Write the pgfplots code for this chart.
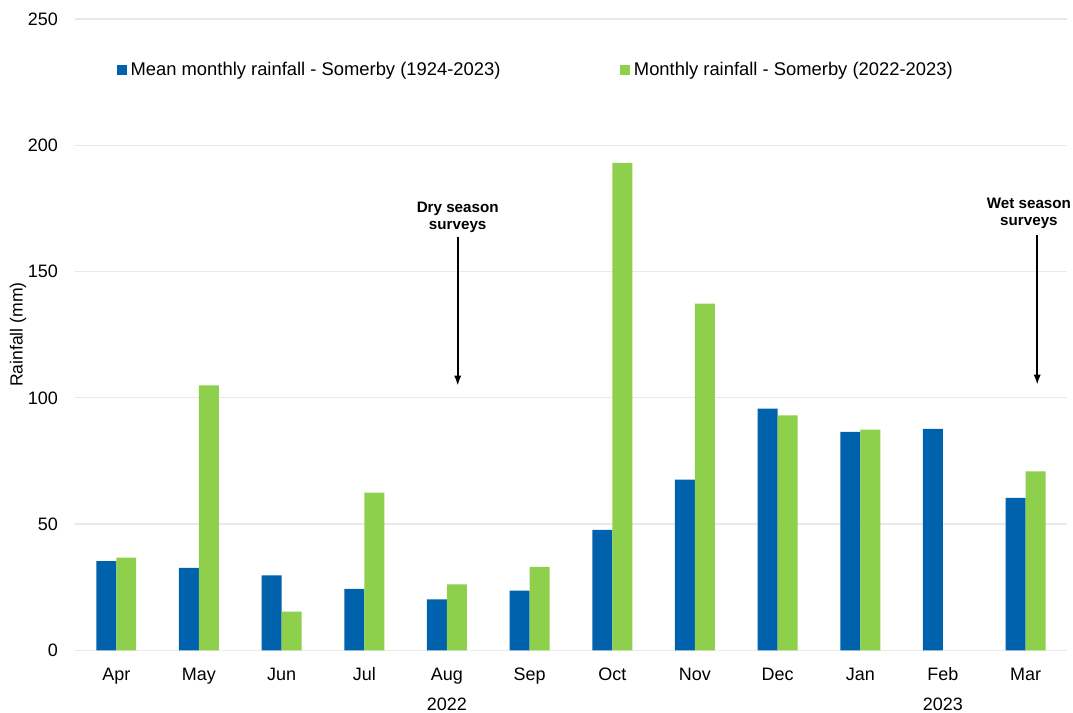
\documentclass[border=0pt]{standalone}
\usepackage{fontspec}
\setmainfont{Liberation Sans}
\usepackage{pgfplots}
\pgfplotsset{compat=1.18}
\usetikzlibrary{arrows.meta}
\definecolor{cblue}{HTML}{0062AC}
\definecolor{cgreen}{HTML}{8ECF4C}
\begin{document}
\begin{tikzpicture}
\begin{axis}[
  at={(0,0)}, anchor=south west,
  scale only axis, width=496.5pt, height=316pt,
  ybar, bar width=10pt,
  xmin=-0.5, xmax=11.5, ymin=0, ymax=250,
  ytick={0,50,...,250},
  xtick={0,...,11},
  xticklabels={Apr,May,Jun,Jul,Aug,Sep,Oct,Nov,Dec,Jan,Feb,Mar},
  major tick length=0pt,
  axis line style={draw=none},
  ymajorgrids, grid style={gray!17, line width=0.6pt},
  tick label style={font=\fontsize{9}{10}\selectfont},
  yticklabel style={xshift=-5pt},
  xticklabel style={yshift=-4.4pt, text height=7pt, text depth=2pt},
  /pgf/number format/assume math mode=true,
  ylabel={Rainfall (mm)},
  ylabel style={font=\fontsize{8.8}{10}\selectfont, at={(axis description cs:-0.0574,0.5)}, anchor=center},
  legend style={at={(axis description cs:0.036,0.919)}, anchor=west, draw=none, fill=none,
    font=\fontsize{9.2}{10}\selectfont, legend columns=2,
    /tikz/every even column/.append style={column sep=58pt}},
  clip=false,
]
\addplot[fill=cblue, draw=none, bar shift=-5pt,
  legend image code/.code={\fill[cblue] (0pt,-2.4pt) rectangle (4.8pt,2.4pt);}]
  coordinates {(0,35.3) (1,32.7) (2,29.7) (3,24.4) (4,20.2) (5,23.7) (6,47.7) (7,67.6) (8,95.7) (9,86.5) (10,87.7) (11,60.4)};
\addlegendentry{Mean monthly rainfall - Somerby (1924-2023)}
\addplot[fill=cgreen, draw=none, bar shift=5pt,
  legend image code/.code={\fill[cgreen] (0pt,-2.4pt) rectangle (4.8pt,2.4pt);}]
  coordinates {(0,36.7) (1,104.9) (2,15.3) (3,62.5) (4,26.1) (5,33.1) (6,193.0) (7,137.3) (8,93.0) (9,87.4) (11,70.9)};
\addlegendentry{Monthly rainfall - Somerby (2022-2023)}
\node[anchor=north, inner sep=0pt, font=\fontsize{9}{10}\selectfont] at (axis cs:4,0) [yshift=-23.5pt] {2022};
\node[anchor=north, inner sep=0pt, font=\fontsize{9}{10}\selectfont] at (axis cs:10,0) [yshift=-23.5pt] {2023};
\node[anchor=south, inner sep=1pt, align=center, font=\bfseries\fontsize{7.6}{8.6}\selectfont] at (axis cs:4.13,164.5) {Dry season\\surveys};
\draw[-{Latex[length=5pt,width=3.6pt]}, line width=0.9pt] (axis cs:4.13,163.8) -- (axis cs:4.13,104.8);
\node[anchor=south, inner sep=1pt, align=center, font=\bfseries\fontsize{7.6}{8.6}\selectfont] at (axis cs:11.04,166) {Wet season\\surveys};
\draw[-{Latex[length=5pt,width=3.6pt]}, line width=0.9pt] (axis cs:11.14,164.6) -- (axis cs:11.14,105.2);
\end{axis}
\path[use as bounding box] (-37.5pt,-31pt) rectangle (499pt,325.5pt);
\end{tikzpicture}
\end{document}
